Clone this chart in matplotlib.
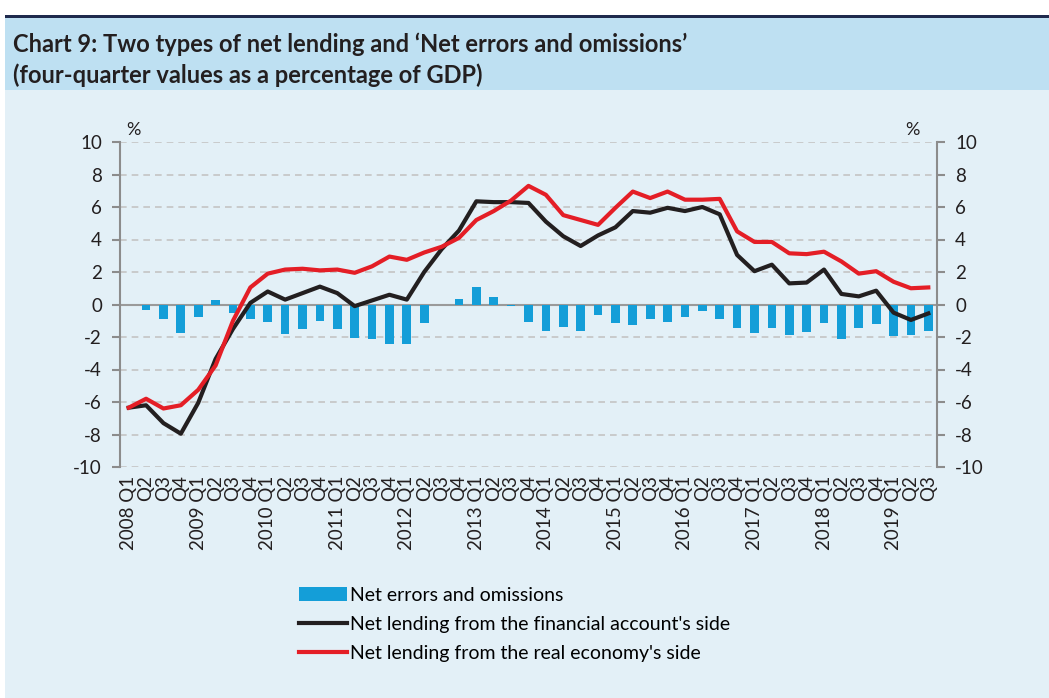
import numpy as np
import matplotlib.pyplot as plt
from matplotlib.patches import Rectangle

years = [str(y) for y in range(2008, 2020)]
quarters = ["Q1", "Q2", "Q3", "Q4"]

net_errors = [0.0, -0.35, -0.9, -1.75, -0.75, 0.3, -0.5, -0.9, -1.1, -1.8, -1.5, -1.0,
              -1.5, -2.05, -2.15, -2.4, -2.4, -1.15, 0.0, 0.35, 1.1, 0.45, -0.1, -1.05,
              -1.65, -1.4, -1.65, -0.65, -1.15, -1.25, -0.9, -1.05, -0.75, -0.4, -0.9, -1.45,
              -1.75, -1.45, -1.9, -1.7, -1.15, -2.1, -1.45, -1.2, -1.95, -1.9, -1.6]
fin_account = [-6.35, -6.2, -7.3, -7.95, -6.05, -3.35, -1.5, 0.1, 0.8, 0.3, 0.7, 1.1,
               0.7, -0.1, 0.25, 0.6, 0.3, 2.0, 3.4, 4.55, 6.35, 6.3, 6.3, 6.25,
               5.1, 4.2, 3.6, 4.25, 4.75, 5.75, 5.65, 5.95, 5.75, 6.0, 5.55, 3.05,
               2.05, 2.45, 1.3, 1.35, 2.15, 0.65, 0.5, 0.85, -0.5, -0.95, -0.55]
real_economy = [-6.35, -5.8, -6.4, -6.2, -5.25, -3.75, -1.0, 1.05, 1.9, 2.15, 2.2, 2.1,
                2.15, 1.95, 2.35, 2.95, 2.75, 3.2, 3.55, 4.1, 5.2, 5.75, 6.4, 7.3,
                6.75, 5.5, 5.2, 4.9, 5.95, 6.95, 6.55, 6.95, 6.45, 6.45, 6.5, 4.5,
                3.85, 3.85, 3.15, 3.1, 3.25, 2.65, 1.9, 2.05, 1.4, 1.0, 1.05]

labels = []
for y in years:
    for q in quarters:
        labels.append(f"{y} {q}" if q == "Q1" else q)
labels = labels[:len(net_errors)]
x = np.arange(len(labels))

plt.rcParams["font.family"] = ["Lato", "DejaVu Sans"]
plt.rcParams["axes.unicode_minus"] = False

fig = plt.figure(figsize=(10.49, 6.98), dpi=100)
fig.patch.set_facecolor("white")

# background panels
fig.patches.append(Rectangle((5/1049, 0), 1 - 5/1049, 1 - 17/698, transform=fig.transFigure,
                             facecolor="#e3f0f7", edgecolor="none", zorder=-3))
fig.patches.append(Rectangle((5/1049, 1 - 90/698), 1 - 5/1049, 73/698, transform=fig.transFigure,
                             facecolor="#bee0f2", edgecolor="none", zorder=-2))
fig.patches.append(Rectangle((5/1049, 1 - 18/698), 1 - 5/1049, 3/698, transform=fig.transFigure,
                             facecolor="#1f2a4d", edgecolor="none", zorder=-1))

fig.text(13/1049, 1 - 44/698, "Chart 9: Two types of net lending and \u2018Net errors and omissions\u2019",
         fontsize=17, fontweight="bold", color="#231f20", va="center")
fig.text(13/1049, 1 - 75/698, "(four-quarter values as a percentage of GDP)",
         fontsize=17, fontweight="bold", color="#231f20", va="center")

ax = fig.add_axes([120/1049, 1 - 467/698, 817/1049, 325/698])
ax.set_facecolor("none")

bars = ax.bar(x, net_errors, width=0.5, color="#149ed8", label="Net errors and omissions", zorder=2)
l1, = ax.plot(x, fin_account, color="#231f20", lw=3, label="Net lending from the financial account's side", zorder=3)
l2, = ax.plot(x, real_economy, color="#e41e26", lw=3, label="Net lending from the real economy's side", zorder=4)

ax.set_xlim(-0.5, len(labels) - 0.5)
ax.set_ylim(-10, 10)
ax.set_yticks(range(-10, 11, 2))
for v in range(-10, 11, 2):
    if v != 0:
        ax.axhline(v, color="#c4c4c4", lw=1.2, ls=(0, (4, 3)), zorder=1)
ax.axhline(0, color="#9a9a9a", lw=1.5, zorder=1)

for s in ["top", "bottom"]:
    ax.spines[s].set_visible(False)
for s in ["left", "right"]:
    ax.spines[s].set_color("#8c8c8c")
    ax.spines[s].set_linewidth(1.5)

ax.tick_params(axis="y", which="both", left=True, right=True, labelleft=True, labelright=True,
               direction="out", length=6, width=1.5, color="#8c8c8c", labelsize=13.5,
               labelcolor="#231f20", pad=7)
ax.set_xticks(x)
ax.set_xticklabels(labels, rotation=90, fontsize=13.5, color="#231f20")
ax.tick_params(axis="x", length=0, pad=6)

fig.text(133/1049, 1 - 130/698, "%", fontsize=13, color="#231f20", ha="center", va="center")
fig.text(912/1049, 1 - 130/698, "%", fontsize=13, color="#231f20", ha="center", va="center")

ax.legend(handles=[bars, l1, l2], loc="upper left", bbox_to_anchor=(299/1049, 1 - 587/698),
          bbox_transform=fig.transFigure, frameon=False, fontsize=14, handlelength=2.45,
          handletextpad=0.15, labelspacing=0.62, borderaxespad=0, borderpad=0)

fig.savefig("out.png", dpi=100, facecolor=fig.get_facecolor())
